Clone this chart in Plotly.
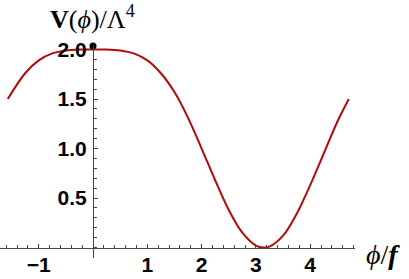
import plotly.graph_objects as go

# data
phi = [-1.57, -1.25, -1.0, -0.75, -0.5, -0.25, 0.0, 0.25, 0.5, 0.75, 1.0, 1.25, 1.5,
       1.75, 2.0, 2.25, 2.5, 2.75, 3.0, 3.14, 3.25, 3.5, 3.75, 4.0, 4.25, 4.5, 4.71]
V = [1.50, 1.76, 1.89, 1.96, 1.99, 2.0, 2.0, 2.0, 1.99, 1.96, 1.89, 1.76, 1.57,
     1.31, 1.00, 0.68, 0.38, 0.15, 0.02, 0.0, 0.01, 0.12, 0.34, 0.63, 0.95, 1.27, 1.50]
dot_x = [0.0]
dot_y = [2.035]

x_tickvals = [-1, 1, 2, 3, 4]
y_tickvals = [0.5, 1.0, 1.5, 2.0]
y_ticktext = ["0.5", "1.0", "1.5", "2.0"]

xr = [-1.713, 4.825]
yr = [-0.105, 2.035]

fig = go.Figure()
fig.add_trace(go.Scatter(x=phi, y=V, mode="lines", line=dict(color="#b20a0a", width=2, shape="spline", smoothing=1.0),
                         hoverinfo="skip", cliponaxis=False))
fig.add_trace(go.Scatter(x=dot_x, y=dot_y, mode="markers", marker=dict(color="black", size=7),
                         cliponaxis=False, hoverinfo="skip"))

axcol = "#444444"
tickfont = dict(family="Liberation Sans", size=21, color="black", weight="bold")

xpos = (0 - yr[0]) / (yr[1] - yr[0])
ypos = (0 - xr[0]) / (xr[1] - xr[0])

fig.update_layout(
    width=409, height=279,
    margin=dict(l=0, r=54, t=46, b=21, autoexpand=False),
    paper_bgcolor="white", plot_bgcolor="white",
    showlegend=False,
    xaxis=dict(range=xr, anchor="free", position=xpos, showgrid=False, zeroline=False, automargin=False,
               showline=True, linecolor=axcol, linewidth=1,
               tickmode="array", tickvals=x_tickvals, ticks="inside", ticklen=4, tickcolor=axcol,
               tickfont=tickfont, ticklabelstandoff=-2,
               minor=dict(tickmode="linear", tick0=0, dtick=0.2, ticks="inside", ticklen=2.5, tickcolor=axcol)),
    yaxis=dict(range=yr, anchor="free", position=ypos, showgrid=False, zeroline=False, automargin=False,
               showline=True, linecolor=axcol, linewidth=1,
               tickmode="array", tickvals=y_tickvals, ticktext=y_ticktext, ticks="inside", ticklen=4, tickcolor=axcol,
               tickfont=tickfont, ticklabelstandoff=2,
               minor=dict(tickmode="linear", tick0=0, dtick=0.1, ticks="inside", ticklen=2.5, tickcolor=axcol)),
    annotations=[
        dict(text="<b>V</b>(<i>ϕ</i>)/Λ<sup>4</sup>", xref="paper", yref="paper",
             x=92 / 355, y=1.0, yshift=29, xanchor="center", yanchor="middle", showarrow=False,
             font=dict(family="Liberation Serif", size=26, color="black")),
        dict(text="<i>ϕ</i>/<b><i>f</i></b>", xref="paper", yref="paper",
             x=1.0, xshift=9, y=xpos, yshift=-7, xanchor="left", yanchor="middle", showarrow=False,
             font=dict(family="Liberation Serif", size=28, color="black")),
    ],
)

fig.write_html("out.html", config={"displayModeBar": False},
               post_script="document.body.style.margin='0';")
